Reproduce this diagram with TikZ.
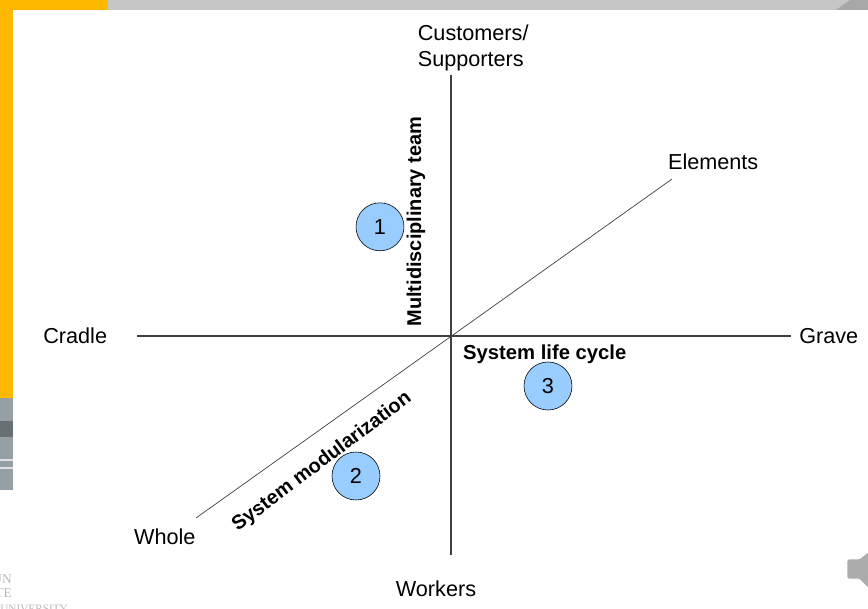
\documentclass[tikz,border=0pt]{standalone}
\usepackage{fontspec}
\setmainfont{Liberation Sans}
\newfontfamily\logofont{Liberation Serif}
\usepackage{xcolor}
\definecolor{stripyellow}{RGB}{255,184,0}
\definecolor{stripgray}{RGB}{198,198,198}
\definecolor{blockgray}{RGB}{148,160,166}
\definecolor{markerblue}{RGB}{153,204,255}
\begin{document}
\begin{tikzpicture}[every node/.style={font=\fontsize{15.4}{18}\selectfont},
  axislabel/.style={inner sep=0pt, align=left},
  axisname/.style={inner sep=0pt, font=\fontsize{14.2}{17}\selectfont\bfseries},
  logotext/.style={inner sep=0pt, text=black!28, font=\logofont\fontsize{9.5}{11}\selectfont},
  marker/.style={circle, draw=black, fill=markerblue, minimum size=1.2cm, inner sep=0pt}]
  \useasboundingbox (0,0) rectangle (21.7,15.2);
  % backdrop
  \fill[stripyellow] (0,5.25) rectangle (0.325,15.2);
  \fill[stripyellow] (0,14.95) rectangle (2.7,15.2);
  \fill[stripgray] (2.7,14.95) rectangle (21.7,15.2);
  \fill[stripgray!85!black] (20.9,14.95) -- (21.25,15.2) -- (21.7,15.2) -- (21.7,14.95) -- cycle;
  \fill[blockgray] (0,2.95) rectangle (0.325,5.25);
  \fill[blockgray!70!black] (0,4.27) rectangle (0.325,4.67);
  \foreach \y in {3.7,3.5} \draw[white!70!blockgray, line width=0.8pt] (0,\y) -- (0.325,\y);
  \draw[white, line width=0.6pt, fill=gray!65!white, rounded corners=1pt] (22,1.4) -- (21.7,1.4) -- (21.475,1.225) -- (21.175,1.225) -- (21.175,0.725) -- (21.475,0.725) -- (21.7,0.5) -- (22,0.5) -- cycle;
  \node[logotext, anchor=east] (logoa) at (0.3,0.72) {UN};
  \node[logotext, anchor=east] (logob) at (0.3,0.36) {TE};
  \node[logotext, anchor=base west, font=\logofont\fontsize{8}{9}\selectfont] (logoc) at (0,-0.1) {UNIVERSITY};
  % axes
  \coordinate (cradleend) at (3.425,6.8);
  \coordinate (graveend) at (19.775,6.8);
  \coordinate (topend) at (11.275,13.325);
  \coordinate (bottomend) at (11.275,1.325);
  \coordinate (wholeend) at (4.9,2.25);
  \coordinate (elementsend) at (16.8,10.725);
  \draw[black!75, line width=0.8pt] (cradleend) -- (graveend);
  \draw[black!75, line width=0.8pt] (topend) -- (bottomend);
  \draw[black!75, line width=0.5pt] (wholeend) -- (elementsend);
  % labels
  \node[axislabel] (customers) at (11.83,14.0) {Customers/\\Supporters};
  \node[axislabel] (workers) at (10.9,0.47) {Workers};
  \node[axislabel] (cradle) at (1.88,6.8) {Cradle};
  \node[axislabel] (grave) at (20.72,6.8) {Grave};
  \node[axislabel] (elements) at (17.83,11.15) {Elements};
  \node[axislabel] (whole) at (4.12,1.78) {Whole};
  \node[axisname, rotate=90] (team) at (10.4,9.66) {Multidisciplinary team};
  \node[axisname, rotate=37] (modular) at (8.05,3.65) {System modularization};
  \node[axisname, font=\fontsize{14.4}{17}\selectfont\bfseries] (lifecycle) at (13.62,6.35) {System life cycle};
  \node[marker] (one) at (9.5,9.53) {1};
  \node[marker] (two) at (8.9,3.3) {2};
  \node[marker] (three) at (13.7,5.55) {3};
\end{tikzpicture}
\end{document}
